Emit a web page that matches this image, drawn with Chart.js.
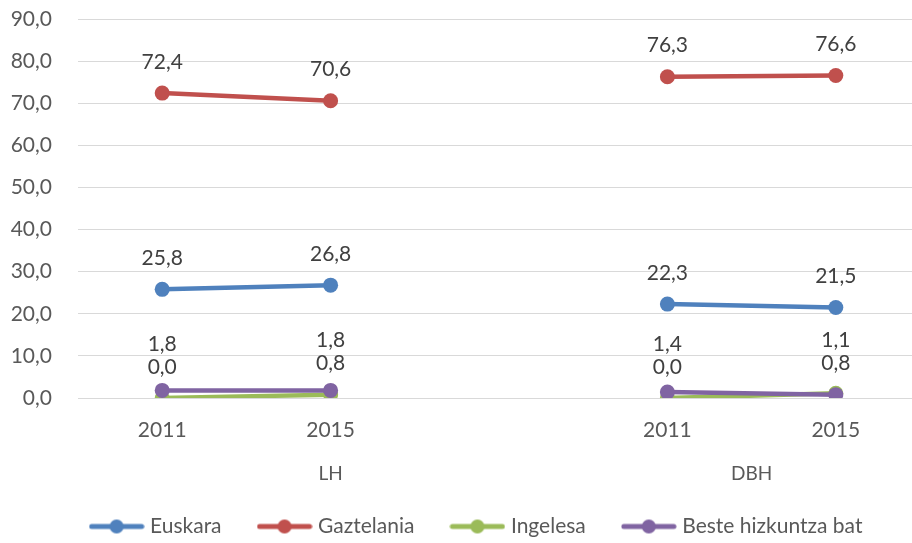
<!DOCTYPE html>
<html>
<head>
<meta charset="utf-8">
<script src="https://cdn.jsdelivr.net/npm/chart.js@4"></script>
<style>
  html, body { margin: 0; padding: 0; background: #fff; overflow: hidden; }
  #wrap { width: 912px; height: 543px; overflow: hidden; }
</style>
</head>
<body>
<div id="wrap"><canvas id="langChart" width="920" height="543"></canvas></div>
<script>
/* data */
const years = ['2011', '2015', '', '2011', '2015'];
const groups = ['LH', 'DBH'];
const groupSpans = [[0, 2], [3, 4]];
const euskara = [25.8, 26.8, null, 22.3, 21.5];
const gaztelania = [72.4, 70.6, null, 76.3, 76.6];
const ingelesa = [0.0, 0.8, null, 0.0, 1.1];
const beste = [1.8, 1.8, null, 1.4, 0.8];
const yTicks = [0, 10, 20, 30, 40, 50, 60, 70, 80, 90];

const FONT = 'Lato, "Open Sans", sans-serif';
const fmt = v => v.toFixed(1).replace('.', ',');

// legend symbol: line with a dot in the middle
function legendIcon(color) {
  const c = document.createElement('canvas');
  c.width = 56; c.height = 16;
  const g = c.getContext('2d');
  g.strokeStyle = color; g.lineWidth = 5; g.lineCap = 'round';
  g.beginPath(); g.moveTo(3, 8); g.lineTo(53, 8); g.stroke();
  g.fillStyle = color;
  g.beginPath(); g.arc(28, 8, 7, 0, Math.PI * 2); g.fill();
  return c;
}

const series = [
  { label: 'Euskara', data: euskara, color: '#4f81bd' },
  { label: 'Gaztelania', data: gaztelania, color: '#c0504d' },
  { label: 'Ingelesa', data: ingelesa, color: '#9bbb59' },
  { label: 'Beste hizkuntza bat', data: beste, color: '#8064a2' }
];

/* value labels above points, stacked when they collide */
const valueLabels = {
  id: 'valueLabels',
  afterDatasetsDraw(chart) {
    const ctx = chart.ctx;
    ctx.save();
    ctx.font = '21px ' + FONT;
    ctx.fillStyle = '#404040';
    ctx.textAlign = 'center';
    ctx.textBaseline = 'middle';
    years.forEach((_, i) => {
      const items = [];
      chart.data.datasets.forEach((ds, di) => {
        const v = ds.data[i];
        if (v == null) return;
        const pt = chart.getDatasetMeta(di).data[i];
        items.push({ v, x: pt.x, y: pt.y - 31 });
      });
      items.sort((a, b) => a.v - b.v);
      let prev = null;
      items.forEach(it => {
        if (prev && prev.y - it.y < 23) it.y = prev.y - 23;
        ctx.fillText(fmt(it.v), it.x, it.y);
        prev = it;
      });
    });
    ctx.restore();
  }
};

/* group labels under the year labels */
const groupLabels = {
  id: 'groupLabels',
  afterLayout(chart) {
    // nudge the legend a little to the right, like the original
    chart.legend.left += 13;
    chart.legend.right += 13;
  },
  afterDraw(chart) {
    const ctx = chart.ctx;
    const xs = chart.scales.x;
    ctx.save();
    ctx.font = '19px ' + FONT;
    ctx.fillStyle = '#595959';
    ctx.textAlign = 'center';
    ctx.textBaseline = 'middle';
    groups.forEach((g, k) => {
      const [a, b] = groupSpans[k];
      const x = (xs.getPixelForValue(a) + xs.getPixelForValue(b)) / 2;
      ctx.fillText(g, x, 474);
    });
    ctx.restore();
  }
};

const ctx = document.getElementById('langChart').getContext('2d');

new Chart(ctx, {
  type: 'line',
  data: {
    labels: years,
    datasets: series.map((s, i) => ({
      label: s.label,
      data: s.data,
      order: series.length - i, // later series drawn on top
      borderColor: s.color,
      backgroundColor: s.color,
      borderWidth: 4.5,
      pointStyle: 'circle',
      pointRadius: 7.5,
      pointHoverRadius: 7.5,
      pointBorderWidth: 0,
      spanGaps: false,
      tension: 0
    }))
  },
  options: {
    responsive: false,
    animation: false,
    events: [],
    layout: { autoPadding: false, padding: { top: 19, right: 0, bottom: -4, left: 10 } },
    plugins: {
      legend: {
        position: 'bottom',
        labels: {
          usePointStyle: true,
          pointStyleWidth: 46,
          font: { size: 21, family: FONT },
          color: '#595959',
          padding: 40,
          generateLabels(chart) {
            return chart.data.datasets.map((ds, i) => ({
              text: ds.label,
              fillStyle: ds.borderColor,
              strokeStyle: ds.borderColor,
              pointStyle: legendIcon(ds.borderColor),
              fontColor: '#595959',
              lineWidth: 0,
              datasetIndex: i
            }));
          }
        }
      },
      tooltip: { enabled: false }
    },
    scales: {
      x: {
        offset: true,
        grid: { display: false, drawTicks: false },
        border: { display: false },
        ticks: { color: '#595959', font: { size: 21, family: FONT }, padding: 20, maxRotation: 0 },
        afterFit(scale) { scale.height = 78; scale.paddingLeft = 0; scale.paddingRight = 0; }
      },
      y: {
        min: 0,
        max: 90,
        afterBuildTicks(scale) { scale.ticks = yTicks.map(v => ({ value: v })); },
        grid: { color: '#d9d9d9', lineWidth: 1, drawTicks: false },
        border: { display: false },
        ticks: { color: '#595959', font: { size: 21, family: FONT }, padding: 26, callback: v => fmt(v) },
        afterFit(scale) { scale.width = 68; scale.paddingTop = 0; scale.paddingBottom = 0; }
      }
    }
  },
  plugins: [valueLabels, groupLabels]
});
</script>
</body>
</html>
